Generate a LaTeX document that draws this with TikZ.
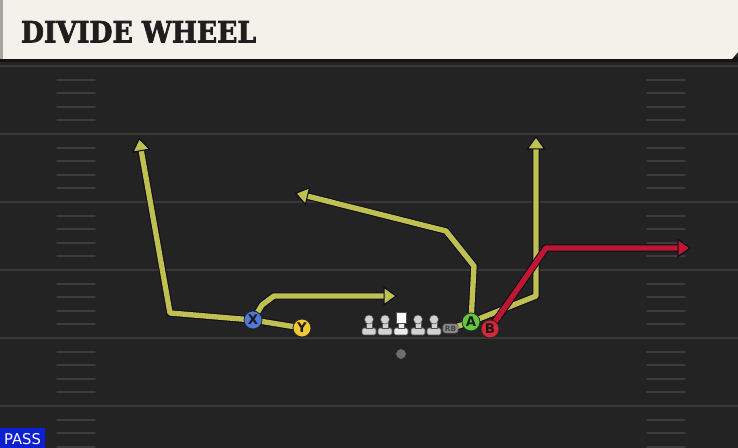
\documentclass[tikz,border=0pt]{standalone}
\usepackage{fontspec}
\setmainfont{DejaVu Sans}
\newfontfamily\titlefont{DejaVu Serif}[BoldFeatures={FakeBold=2.5}]
\usetikzlibrary{arrows.meta}
\pgfdeclarelayer{field}
\pgfdeclarelayer{routes}
\pgfsetlayers{field,routes,main}
\definecolor{fieldbg}{RGB}{35,35,35}
\definecolor{yardline}{RGB}{56,56,56}
\definecolor{hashcol}{RGB}{60,60,60}
\definecolor{headbg}{RGB}{244,241,234}
\definecolor{headstrip}{RGB}{165,165,160}
\definecolor{headshadow}{RGB}{20,20,20}
\definecolor{titlecol}{RGB}{30,30,30}
\definecolor{routeY}{RGB}{192,192,80}
\definecolor{routeR}{RGB}{192,22,50}
\definecolor{routeedge}{RGB}{14,14,26}
\definecolor{xblue}{RGB}{80,122,214}
\definecolor{yyellow}{RGB}{240,200,50}
\definecolor{agreen}{RGB}{96,200,60}
\definecolor{bred}{RGB}{215,40,58}
\definecolor{linefill}{RGB}{210,210,210}
\definecolor{lineedge}{RGB}{80,80,80}
\definecolor{rbfill}{RGB}{140,140,140}
\definecolor{qbdot}{RGB}{110,110,110}
\definecolor{passblue}{RGB}{12,32,210}
\tikzset{
  route/.style={draw=#1, line width=4pt, line join=round,
    preaction={draw=routeedge, line width=5.6pt,
      -{Triangle[length=10pt,width=14pt,color=routeedge,fill=#1,line width=0.8pt]}},
    -{Triangle[length=10pt,width=14pt,color=routeedge,fill=#1,line width=0.8pt]}},
  player/.style={circle, draw=black!85, line width=0.6pt, minimum size=13.5pt,
    inner sep=0pt, font=\bfseries\fontsize{10}{10}\selectfont, text=black!90},
  yard/.style={draw=yardline, line width=1.9pt},
  hashmark/.style={draw=hashcol, line width=1.4pt, line cap=round},
  linepart/.style={draw=lineedge, fill=linefill, line width=0.4pt},
  lineman/.pic={
    \path[linepart, rounded corners=1.2pt] (-7,1) rectangle (7,8);
    \path[linepart] (-3,-5) rectangle (3,1.5);
    \path[linepart] (0,-7.5) circle[radius=4.5];
  },
  centerman/.pic={
    \path[linepart, fill=gray!15, rounded corners=1.2pt] (-7,1) rectangle (7,8);
    \path[linepart, fill=gray!15] (-3,-5) rectangle (3,1.5);
    \path[draw=lineedge, fill=white, line width=0.4pt] (-5,-15) rectangle (5,-4);
  }
}
\begin{document}
\begin{tikzpicture}[x=0.75pt,y=-0.75pt]
\useasboundingbox (0,0) rectangle (738,448);
\begin{pgfonlayer}{field}
  \fill[fieldbg] (0,0) rectangle (738,448);
  \foreach \yy in {66,134,202,270,338,406} {
    \draw[yard] (0,\yy) -- (738,\yy);
  }
  \foreach \yy in {66,134,202,270,338,406} {
    \foreach \k in {1,2,3,4} {
      \draw[hashmark] (57,\yy+13.6*\k) -- (95,\yy+13.6*\k);
      \draw[hashmark] (647,\yy+13.6*\k) -- (685,\yy+13.6*\k);
    }
  }
  % header
  \fill[headshadow] (0,57) rectangle (738,62);
  \fill[headbg] (0,0) -- (738,0) -- (738,52) -- (732,59) -- (0,59) -- cycle;
  \fill[headstrip] (0,0) rectangle (3,59);
\end{pgfonlayer}

\node[anchor=south west, inner sep=0pt, text=titlecol] (title) at (20.7,42.7)
  {\resizebox{176.4pt}{16pt}{\titlefont\bfseries DIVIDE WHEEL}};

% players
\node[player, fill=xblue] (X) at (253,320) {X};
\node[player, fill=yyellow] (Y) at (302,328) {Y};
\node[player, fill=agreen] (A) at (471,322) {A};
\node[player, fill=bred] (B) at (490,329) {B};
\node[draw=lineedge, fill=rbfill, rounded corners=2pt, line width=0.4pt,
  minimum width=11.5pt, minimum height=7pt, inner sep=0pt,
  font=\bfseries\fontsize{5.5}{5.5}\selectfont, text=black!75] (RB) at (450.5,328.5) {RB};
\pic (lt) at (369,327) {lineman};
\pic (lg) at (385,327) {lineman};
\pic (c) at (401,327) {centerman};
\pic (rg) at (418,327) {lineman};
\pic (rt) at (434,327) {lineman};
\node[circle, fill=qbdot, draw=black!60, line width=0.3pt, minimum size=7pt, inner sep=0pt] (QB) at (401,354) {};

% route points
\coordinate (y1) at (170,313);
\coordinate (y2) at (139,138);
\coordinate (x1) at (262,305);
\coordinate (x2) at (274,296);
\coordinate (x3) at (397,296);
\coordinate (a1) at (474,266);
\coordinate (a2) at (446,231);
\coordinate (a3) at (295,193);
\coordinate (r1) at (536,296);
\coordinate (r2) at (536,136);
\coordinate (b1) at (546,248);
\coordinate (b2) at (691,248);

\begin{pgfonlayer}{routes}
  \draw[route=routeY] (Y.center) -- (X.center) -- (y1) -- (y2);
  \draw[route=routeY] (X.center) -- (x1) -- (x2) -- (x3);
  \draw[route=routeY] (A.center) -- (a1) -- (a2) -- (a3);
  \draw[route=routeY] (RB.center) -- (A.center) -- (r1) -- (r2);
  \draw[route=routeR] (B.center) -- (b1) -- (b2);
\end{pgfonlayer}

% PASS badge
\node[fill=passblue, inner sep=0pt, minimum width=33.75pt, minimum height=15pt, anchor=south west] (passbox) at (0,448) {};
\node[anchor=south, inner sep=0pt, text=white] (passlbl) at (22.5,445)
  {\resizebox{27.5pt}{8.25pt}{PASS}};
\end{tikzpicture}
\end{document}
